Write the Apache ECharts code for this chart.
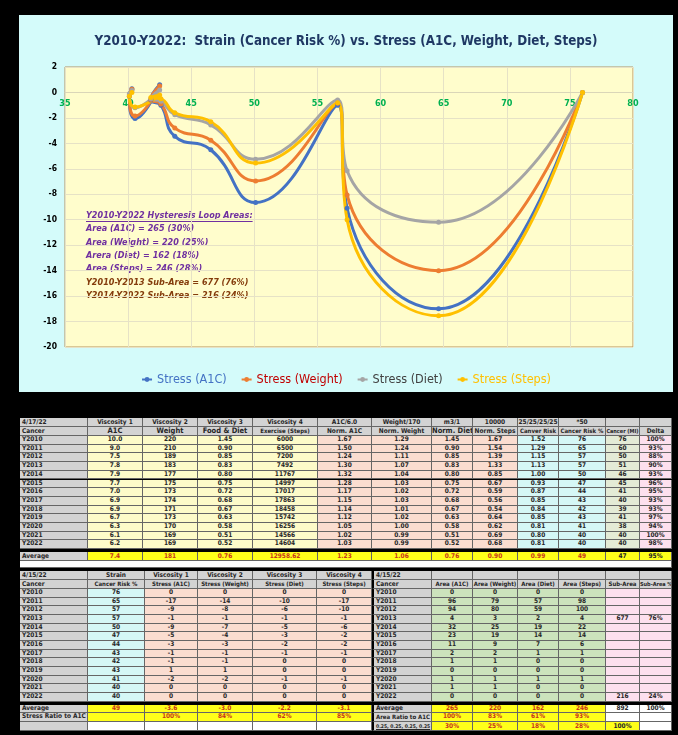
<!DOCTYPE html>
<html>
<head>
<meta charset="utf-8">
<script src="https://cdn.jsdelivr.net/npm/echarts@6/dist/echarts.min.js"></script>
<style>
body{margin:0;background:#000;width:678px;height:735px;overflow:hidden;position:relative;font-family:'Liberation Sans Narrow','DejaVu Sans Condensed',sans-serif;}
#main{position:absolute;left:19px;top:15px;width:654px;height:377px;background:#D4FBFA;}
.c{position:absolute;box-sizing:border-box;border-right:1px solid #666;border-bottom:1px solid #666;font-size:6.5px;font-weight:bold;text-align:center;white-space:nowrap;overflow:hidden;color:#262626;}
</style>
</head>
<body>
<div id="main"></div>
<script>
// chart data: strain (cancer risk %) on x, stress on y
var years = ['Y2010','Y2011','Y2012','Y2013','Y2014','Y2015','Y2016','Y2017','Y2018','Y2019','Y2020','Y2021','Y2022'];
var strain = [76, 64.6, 57.35, 56.6, 50.1, 46.55, 43.7, 42.6, 41.8, 42.5, 40.55, 40.1, 40.3];
var stressA1C = [0, -17.0, -9.1, -1.0, -8.65, -4.5, -3.45, -1.0, -0.6, 0.6, -2.05, -0.3, 0.3];
var stressWeight = [0, -14.0, -8.05, -0.85, -6.95, -3.75, -2.8, -0.9, -0.55, 0.5, -1.85, -0.2, 0.25];
var stressDiet = [0, -10.2, -6.15, -0.6, -5.25, -2.55, -1.75, -0.7, -0.5, 0.2, -1.2, -0.1, 0.15];
var stressSteps = [0, -17.55, -10.0, -0.8, -5.55, -2.3, -1.6, -0.5, -0.4, -0.2, -1.15, -0.3, 0.0];

var notes = ['Y2010-Y2022 Hysteresis Loop Areas:', 'Area (A1C) = 265 (30%)', 'Area (Weight) = 220 (25%)',
  'Arera (Diet) = 162 (18%)', 'Area (Steps) = 246 (28%)', 'Y2010-Y2013 Sub-Area = 677 (76%)', 'Y2014-Y2022 Sub-Area = 216 (24%)'];

// table 1 (4/17/22)
var t1Head1 = ['4/17/22','Viscosity 1','Viscosity 2','Viscosity 3','Viscosity 4','A1C/6.0','Weight/170','m3/1','10000','25/25/25/25','*50','',''];
var t1Head2 = ['Cancer','A1C','Weight','Food & Diet','Exercise (Steps)','Norm. A1C','Norm. Weight','Norm. Diet','Norm. Steps','Canver Risk','Cancer Risk %','Cancer (MI)','Delta'];
var a1c = ['10.0','9.0','7.5','7.8','7.9','7.7','7.0','6.9','6.9','6.7','6.3','6.1','6.2'];
var weight = [220,210,189,183,177,175,173,174,171,173,170,169,169];
var diet = ['1.45','0.90','0.85','0.83','0.80','0.75','0.72','0.68','0.67','0.63','0.58','0.51','0.52'];
var steps = [6000,6500,7200,7492,11767,14997,17017,17863,18458,15742,16256,14566,14604];
var normA1C = ['1.67','1.50','1.24','1.30','1.32','1.28','1.17','1.15','1.14','1.12','1.05','1.02','1.03'];
var normWeight = ['1.29','1.24','1.11','1.07','1.04','1.03','1.02','1.03','1.01','1.02','1.00','0.99','0.99'];
var normDiet = diet;
var normSteps = ['1.67','1.54','1.39','1.33','0.85','0.67','0.59','0.56','0.54','0.64','0.62','0.69','0.68'];
var canverRisk = ['1.52','1.29','1.15','1.13','1.00','0.93','0.87','0.85','0.84','0.85','0.81','0.80','0.81'];
var riskPct = [76,65,57,57,50,47,44,43,42,43,41,40,40];
var cancerMI = [76,60,50,51,46,45,41,40,39,41,38,40,40];
var delta = ['100%','93%','88%','90%','93%','96%','95%','93%','93%','97%','94%','100%','98%'];
var t1Avg = ['Average','7.4','181','0.76','12958.62','1.23','1.06','0.76','0.90','0.99','49','47','95%'];

// table 2 (4/15/22)
var t2Head1 = ['4/15/22','Strain','Viscosity 1','Viscosity 2','Viscosity 3','Viscosity 4','4/15/22','','','','','',''];
var t2Head2 = ['Cancer','Cancer Risk %','Stress (A1C)','Stress (Weight)','Stress (Diet)','Stress (Steps)','Cancer','Area (A1C)','Area (Weight)','Area (Diet)','Area (Steps)','Sub-Area','Sub-Area %'];
var sA1C = [0,-17,-9,-1,-9,-5,-3,-1,-1,1,-2,0,0];
var sWeight = [0,-14,-8,-1,-7,-4,-3,-1,-1,1,-2,0,0];
var sDiet = [0,-10,-6,-1,-5,-3,-2,-1,0,0,-1,0,0];
var sSteps = [0,-17,-10,-1,-6,-2,-2,-1,0,0,-1,0,0];
var areaA1C = [0,96,94,4,32,23,11,2,1,0,1,1,0];
var areaWeight = [0,79,80,3,25,19,9,2,1,0,1,1,0];
var areaDiet = [0,57,59,2,19,14,7,1,0,0,1,0,0];
var areaSteps = [0,98,100,4,22,14,6,1,0,0,1,0,0];
var subArea = ['','','','677','','','','','','','','','216'];
var subAreaPct = ['','','','76%','','','','','','','','','24%'];
var t2Avg = ['Average','49','-3.6','-3.0','-2.2','-3.1','Average','265','220','162','246','892','100%'];
var t2Ratio = ['Stress Ratio to A1C','','100%','84%','62%','85%','Area Ratio to A1C','100%','83%','61%','93%','',''];
var t2Last = ['','','','','','','0.25, 0.25, 0.25, 0.25','30%','25%','18%','28%','100%',''];

var colors = ['#4472C4','#ED7D31','#A5A5A5','#FFC000'];
var legendColors = ['#4472C4','#C00000','#404040','#FFC000'];
var names = ['Stress (A1C)','Stress (Weight)','Stress (Diet)','Stress (Steps)'];
var sets = [stressA1C, stressWeight, stressDiet, stressSteps];
var FONT = "'Liberation Sans Narrow','DejaVu Sans Condensed',sans-serif";

var myChart = echarts.init(document.getElementById('main'));

var NOTE_FONT = 'italic bold 9px ' + FONT;
var ctx = document.createElement('canvas').getContext('2d');
ctx.font = NOTE_FONT;
var graphics = [];
notes.forEach(function (t, i) {
    graphics.push({
        type: 'text', x: 67, y: 196 + i * 13.4,
        style: { text: t, fill: i < 5 ? '#7030A0' : '#843C0C', font: NOTE_FONT }
    });
});
graphics.push({
    type: 'line',
    shape: { x1: 67, y1: 206.5, x2: 67 + ctx.measureText(notes[0]).width, y2: 206.5 },
    style: { stroke: '#7030A0', lineWidth: 1 }
});

var option = {
    animation: false,
    title: {
        text: 'Y2010-Y2022:  Strain (Cancer Risk %) vs. Stress (A1C, Weight, Diet, Steps)',
        left: 'center', top: 15,
        textStyle: { color: '#1F3864', fontSize: 13.3, fontWeight: 'bold', fontFamily: FONT }
    },
    legend: {
        bottom: 1,
        itemWidth: 10, itemHeight: 6, itemGap: 14,
        data: names.map(function (n, i) {
            return { name: n, textStyle: { color: legendColors[i] } };
        }),
        textStyle: { fontSize: 12.5, fontFamily: FONT }
    },
    grid: {
        left: 46, top: 52, width: 568, height: 280,
        show: true, backgroundColor: '#FFFDCC', borderColor: '#B5925F', borderWidth: 1
    },
    xAxis: {
        type: 'value', min: 35, max: 80, interval: 5,
        // labels sit on the zero line, as in the original sheet
        offset: -254.5,
        axisLine: { show: true, onZero: false, lineStyle: { color: '#DAD6B8' } },
        axisTick: { show: false },
        axisLabel: { color: '#00B050', fontWeight: 'bold', fontSize: 9, margin: 7, fontFamily: FONT },
        splitLine: { lineStyle: { color: '#E6E2C6' } }
    },
    yAxis: {
        type: 'value', min: -20, max: 2, interval: 2,
        axisLine: { show: false },
        axisTick: { show: false },
        axisLabel: { color: '#000', fontWeight: 'bold', fontSize: 8.5, margin: 8, fontFamily: FONT },
        splitLine: { lineStyle: { color: '#E6E2C6' } }
    },
    graphic: graphics,
    series: sets.map(function (s, i) {
        return {
            name: names[i], type: 'line', smooth: 0.5,
            symbol: 'circle', symbolSize: 5,
            data: strain.map(function (x, j) { return [x, s[j]]; }),
            lineStyle: { width: 3, color: colors[i] },
            itemStyle: { color: colors[i] }
        };
    })
};
myChart.setOption(option);

// tables drawn as plain positioned cells
var GREY = '#D3D3D3', YEL = '#FDFBC9', SAL = '#FADDD0', CYAN = '#D5F7F6', MI = '#E4EBD6', PINK = '#FDE0EE',
    GREEN = '#CCE3BC', BRIGHT = '#FFFF1A', RED = '#C8361B', WHITE = '#FFFFFF';

function cell(x0, x1, y0, y1, txt, bg, opt) {
    var d = document.createElement('div');
    d.className = 'c';
    d.style.left = x0 + 'px'; d.style.top = y0 + 'px';
    d.style.width = (x1 - x0) + 'px'; d.style.height = (y1 - y0) + 'px';
    d.style.lineHeight = (y1 - y0 - 1) + 'px';
    d.style.background = bg;
    opt = opt || {};
    if (opt.color) d.style.color = opt.color;
    if (opt.left) { d.style.textAlign = 'left'; d.style.paddingLeft = '2px'; }
    if (opt.size) d.style.fontSize = opt.size + 'px';
    if (opt.u) d.style.textDecoration = 'underline';
    if (opt.divider) d.style.borderLeft = '2px solid #000';
    d.textContent = txt;
    document.body.appendChild(d);
}

function row(edges, y0, y1, vals, bgs, opts) {
    for (var c = 0; c < vals.length; c++) {
        var o = opts ? (opts[c] || {}) : {};
        cell(edges[c], edges[c + 1], y0, y1, vals[c], bgs[c], o);
    }
}

var e1 = [20, 88, 143, 198, 253, 318, 372, 432, 473, 518, 559, 606, 640, 672];
var hdrBg = e1.slice(1).map(function () { return GREY; });
var big = { size: 7.5 }, sm = { size: 6 }, xs = { size: 5.5 };
row(e1, 418, 427, t1Head1, hdrBg, [{ left: 1 }]);
row(e1, 427, 436, t1Head2, hdrBg, [{ left: 1 }, big, big, big, sm, {}, {}, big, {}, sm, sm, xs]);
var t1Bg = [GREY, YEL, YEL, YEL, YEL, SAL, SAL, SAL, SAL, CYAN, CYAN, MI, PINK];
years.forEach(function (y, i) {
    var top = 436 + i * 8.7;
    row(e1, top, top + 8.7, [y, a1c[i], weight[i], diet[i], steps[i], normA1C[i], normWeight[i], normDiet[i],
        normSteps[i], canverRisk[i], riskPct[i], cancerMI[i], delta[i]], t1Bg, [{ left: 1 }]);
});
var avgBg = [GREY].concat(e1.slice(2).map(function () { return BRIGHT; }));
var redOpts = [{ left: 1 }].concat(e1.slice(2, 12).map(function () { return { color: RED }; }));
row(e1, 552, 561, t1Avg, avgBg, redOpts);
cell(20, 672, 561, 568, '', WHITE);

var e2 = [20, 88, 145, 198, 253, 317, 372, 432, 473, 518, 559, 606, 640, 672];
var h2opts = [{ left: 1 }, {}, {}, {}, {}, {}, { left: 1, divider: 1 }];
var h2head = [{ left: 1 }, sm, sm, sm, sm, sm, { left: 1, divider: 1 }, sm, sm, sm, sm, sm, xs];
row(e2, 571, 580, t2Head1, hdrBg, h2opts);
row(e2, 580, 589, t2Head2, hdrBg, h2head);
var t2Bg = [GREY, CYAN, SAL, SAL, SAL, SAL, GREY, GREEN, GREEN, GREEN, GREEN, PINK, PINK];
years.forEach(function (y, i) {
    var top = 589 + i * 8.67;
    row(e2, top, top + 8.67, [y, riskPct[i], sA1C[i], sWeight[i], sDiet[i], sSteps[i], y, areaA1C[i], areaWeight[i],
        areaDiet[i], areaSteps[i], subArea[i], subAreaPct[i]], t2Bg, h2opts);
});
var r = { color: RED };
row(e2, 704.5, 713.3, t2Avg,
    [GREY, BRIGHT, BRIGHT, BRIGHT, BRIGHT, BRIGHT, GREY, BRIGHT, BRIGHT, BRIGHT, BRIGHT, WHITE, WHITE],
    [{ left: 1 }, r, r, r, r, r, { left: 1, divider: 1 }, r, r, r, r]);
row(e2, 713.3, 722, t2Ratio,
    [GREY, BRIGHT, BRIGHT, BRIGHT, BRIGHT, BRIGHT, GREY, BRIGHT, BRIGHT, BRIGHT, BRIGHT, WHITE, WHITE],
    [{ left: 1 }, r, r, r, r, r, { left: 1, divider: 1, size: 6 }, r, r, r, r]);
row(e2, 722, 731, t2Last,
    [GREY, WHITE, WHITE, WHITE, WHITE, WHITE, GREY, BRIGHT, BRIGHT, BRIGHT, BRIGHT, BRIGHT, WHITE],
    [{ left: 1 }, {}, {}, {}, {}, {}, { left: 1, u: 1, divider: 1, size: 5 }, r, r, r, r]);
</script>
</body>
</html>
